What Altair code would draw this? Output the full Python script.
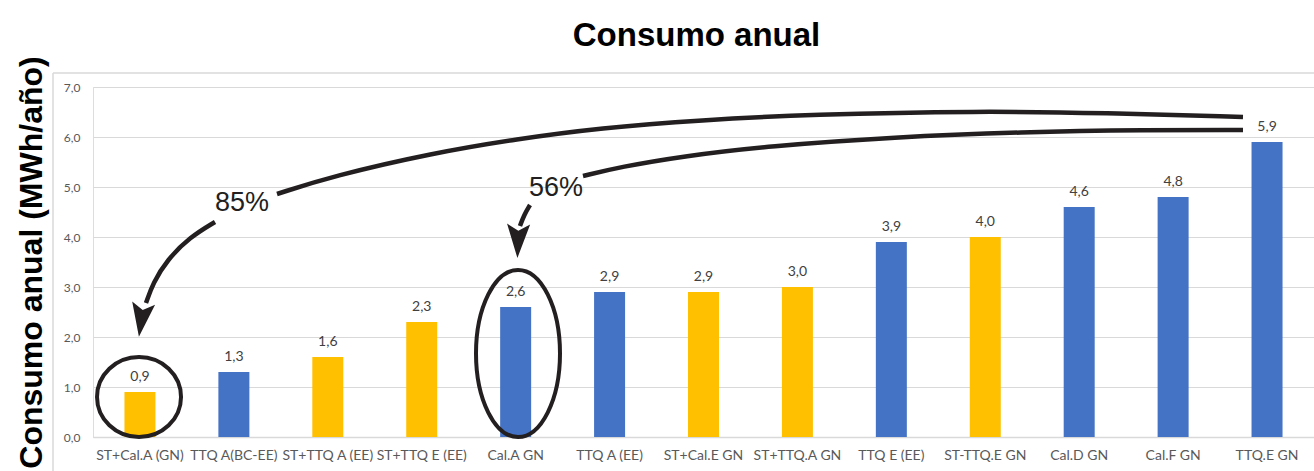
import altair as alt
import pandas as pd

# --- bar data -------------------------------------------------------------
categorias = [
    "ST+Cal.A (GN)", "TTQ A(BC-EE)", "ST+TTQ A (EE)", "ST+TTQ E (EE)",
    "Cal.A GN", "TTQ A (EE)", "ST+Cal.E GN", "ST+TTQ.A GN",
    "TTQ E (EE)", "ST-TTQ.E GN", "Cal.D GN", "Cal.F GN", "TTQ.E GN",
]
consumo = [0.9, 1.3, 1.6, 2.3, 2.6, 2.9, 2.9, 3.0, 3.9, 4.0, 4.6, 4.8, 5.9]
grupo = ["con ST", "sin ST", "con ST", "con ST", "sin ST", "sin ST", "con ST",
         "con ST", "sin ST", "con ST", "sin ST", "sin ST", "sin ST"]
y_ticks = [0, 1, 2, 3, 4, 5, 6, 7]

# --- annotation geometry (x in category-index units, y in MWh/año) --------
curva_85_sup_x = [1.959, 2.555, 3.620, 4.514, 5.398, 6.473, 7.634, 9.433, 10.775, 12.244]
curva_85_sup_y = [4.86, 5.22, 5.68, 5.96, 6.18, 6.34, 6.45, 6.52, 6.48, 6.40]
curva_85_inf_x = [1.299, 1.033, 0.788, 0.639, 0.564]
curva_85_inf_y = [4.30, 4.00, 3.54, 3.08, 2.68]
curva_56_sup_x = [5.217, 5.611, 6.292, 7.187, 8.539, 9.880, 11.222, 12.244]
curva_56_sup_y = [5.22, 5.40, 5.62, 5.82, 6.00, 6.10, 6.14, 6.14]
curva_56_inf_x = [4.653, 4.589, 4.546]
curva_56_inf_y = [4.64, 4.44, 4.22]

flecha_x = [0.514, 4.525]
flecha_y = [2.34, 3.92]
flecha_ang = [8, 2]

pct_texto = ["85%", "56%"]
pct_x = [1.586, 4.930]
pct_y = [4.68, 4.98]

elipse1 = (0.49, 0.80)
elipse2 = (4.525, 1.67)

W, H = 1221, 350
AZUL, AMARILLO = "#4472C4", "#FFC000"
TINTA = "#231F20"
GRIS = "#D9D9D9"
FUENTE = "Lato"

bars_df = pd.DataFrame({"cat": categorias, "val": consumo, "grupo": grupo})

x_enc = alt.X(
    "cat:N", sort=None, title=None,
    scale=alt.Scale(paddingInner=0.67, paddingOuter=0.335),
    axis=alt.Axis(labelAngle=0, ticks=False, domain=True, domainColor=GRIS,
                  domainWidth=1.5, labelColor="#595959", labelFont=FUENTE,
                  labelFontSize=14, labelPadding=11, labelOverlap=False,
                  grid=False),
)
y_enc = alt.Y(
    "val:Q", title="Consumo anual (MWh/año)",
    scale=alt.Scale(domain=[0, 7], nice=False),
    axis=alt.Axis(values=y_ticks, grid=True, gridColor=GRIS, domain=False,
                  ticks=False, labelPadding=13, labelFont=FUENTE,
                  labelFontSize=12, labelColor="#595959",
                  labelExpr="replace(format(datum.value, '.1f'), '.', ',')",
                  titleFont="Liberation Sans", titleFontSize=32,
                  titleFontWeight="bold", titleColor="#000000",
                  titleAngle=270, titleX=-52, titleY=H / 2,
                  titleAlign="center", titleBaseline="alphabetic"),
)

base = alt.Chart(bars_df)
bars = base.mark_bar().encode(
    x=x_enc, y=y_enc,
    color=alt.Color("grupo:N", legend=None,
                    scale=alt.Scale(domain=["con ST", "sin ST"],
                                    range=[AMARILLO, AZUL])),
)
labels = base.transform_calculate(
    etiqueta="replace(format(datum.val, '.1f'), '.', ',')"
).mark_text(dy=-11, baseline="alphabetic", font=FUENTE, fontSize=14,
            color="#404040").encode(x=x_enc, y="val:Q", text="etiqueta:N")

barras = alt.layer(bars, labels)

# --- annotations ------------------------------------------------------------
ax = alt.X("x:Q", axis=None, scale=alt.Scale(domain=[0, 13], nice=False, zero=False))
ay = alt.Y("y:Q")

filas = []
for seg, xs, ys in [("85a", curva_85_sup_x, curva_85_sup_y),
                    ("85b", curva_85_inf_x, curva_85_inf_y),
                    ("56a", curva_56_sup_x, curva_56_sup_y),
                    ("56b", curva_56_inf_x, curva_56_inf_y)]:
    for i, (xv, yv) in enumerate(zip(xs, ys)):
        filas.append({"seg": seg, "orden": i, "x": xv, "y": yv})
curvas_df = pd.DataFrame(filas)

curvas = alt.Chart(curvas_df).mark_line(
    interpolate="basis", color=TINTA, strokeWidth=4.5, strokeCap="butt"
).encode(x=ax, y=ay, detail="seg:N", order="orden:Q")

flechas_df = pd.DataFrame({"x": flecha_x, "y": flecha_y, "ang": flecha_ang})
punta = "M 0 1 L -0.68 -1 L 0 -0.6 L 0.68 -1 Z"
flechas = alt.Chart(flechas_df).mark_point(
    shape=punta, size=1156, filled=True, color=TINTA, opacity=1
).encode(x=ax, y=ay, angle=alt.Angle("ang:Q", scale=None))

e1_df = pd.DataFrame({"x": [elipse1[0]], "y": [elipse1[1]]})
e2_df = pd.DataFrame({"x": [elipse2[0]], "y": [elipse2[1]]})
circ1 = alt.Chart(e1_df).mark_point(
    shape="M -1 0 A 1 0.952 0 1 0 1 0 A 1 0.952 0 1 0 -1 0",
    size=84 * 84, filled=False, stroke=TINTA, strokeWidth=4, opacity=1
).encode(x=ax, y=ay)
circ2 = alt.Chart(e2_df).mark_point(
    shape="M -0.503 0 A 0.503 1 0 1 0 0.503 0 A 0.503 1 0 1 0 -0.503 0",
    size=167 * 167, filled=False, stroke=TINTA, strokeWidth=4, opacity=1
).encode(x=ax, y=ay)

pct_df = pd.DataFrame({"x": pct_x, "y": pct_y, "t": pct_texto})
pct = alt.Chart(pct_df).mark_text(
    font="Liberation Sans", fontSize=27, color=TINTA, baseline="middle",
    align="center"
).encode(x=ax, y=ay, text="t:N")

anotaciones = alt.layer(curvas, flechas, circ1, circ2, pct)

# light frame lines at the top and left of the chart area
marco_sup = alt.Chart(pd.DataFrame({"k": [0]})).mark_rule(
    color=GRIS, strokeWidth=1.5
).encode(x=alt.value(-40), x2=alt.value(W), y=alt.value(-14))
marco_izq = alt.Chart(pd.DataFrame({"k": [0]})).mark_rule(
    color=GRIS, strokeWidth=1.5
).encode(x=alt.value(-40), y=alt.value(-14), y2=alt.value(384))

chart = alt.layer(marco_sup, marco_izq, barras, anotaciones).resolve_scale(
    x="independent"
).properties(
    width=W, height=H,
    title=alt.TitleParams("Consumo anual", font="Liberation Sans", fontSize=33,
                          fontWeight="bold", color="#000000", anchor="middle",
                          frame="group", baseline="alphabetic", offset=-23, dx=-7),
    autosize=alt.AutoSizeParams(type="none"),
    padding={"left": 93, "top": 87, "right": 0, "bottom": 34},
).configure_view(stroke=None).configure(background="white")

chart.save("out.html", embed_options={"renderer": "svg", "actions": False})
